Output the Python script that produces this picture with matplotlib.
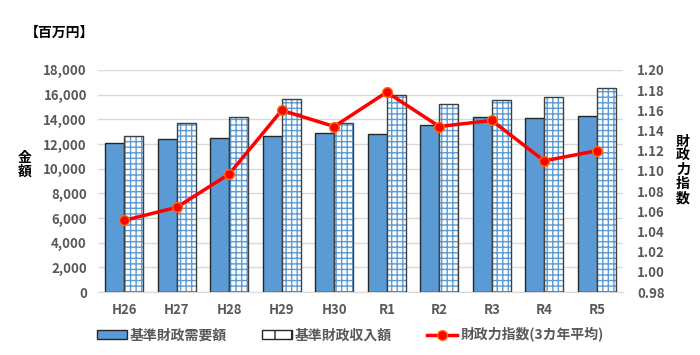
import matplotlib.pyplot as plt
import matplotlib.ticker as mticker
import numpy as np

plt.rcParams['font.family'] = ['Noto Sans CJK JP', 'DejaVu Sans']
plt.rcParams['hatch.linewidth'] = 1.0

years = ["H26", "H27", "H28", "H29", "H30", "R1", "R2", "R3", "R4", "R5"]
juyo = [12060, 12380, 12510, 12650, 12890, 12810, 13510, 14220, 14080, 14300]
shunyu = [12650, 13730, 14220, 15650, 13730, 15970, 15220, 15600, 15790, 16540]
shisu = [1.051, 1.064, 1.097, 1.160, 1.144, 1.178, 1.144, 1.150, 1.110, 1.120]

blue = '#5B9BD5'
gray = '#595959'

fig = plt.figure(figsize=(7, 3.55), dpi=100)
ax = fig.add_axes([0.14, 0.177, 0.75, 0.626])
x = np.arange(len(years))
w = 0.36

ax.bar(x - w / 2, juyo, w, color=blue, edgecolor='#262626', linewidth=1.0, zorder=3)
# barres hachurées : le quadrillage d'abord, puis le contour
ax.bar(x + w / 2, shunyu, w, color='white', edgecolor=blue, hatch='+++', linewidth=0, zorder=3)
ax.bar(x + w / 2, shunyu, w, fill=False, edgecolor='#404040', linewidth=1.0, zorder=4)

ax.set_xlim(-0.5, len(years) - 0.5)
ax.set_ylim(0, 18000)
ax.set_yticks(range(0, 18001, 2000))
ax.yaxis.set_major_formatter(mticker.StrMethodFormatter('{x:,.0f}'))
ax.set_xticks(x)
ax.set_xticklabels(years)
ax.grid(axis='y', color='#D9D9D9', linewidth=1.0, zorder=0)
for s in ['top', 'right', 'left']:
    ax.spines[s].set_visible(False)
ax.spines['bottom'].set_color('#D9D9D9')
ax.tick_params(length=0, colors=gray, labelsize=9.5, pad=8)
for t in ax.get_xticklabels() + ax.get_yticklabels():
    t.set_fontweight('bold')

ax2 = ax.twinx()
ax2.plot(x, shisu, color='#FF0000', linewidth=2.5, marker='o', markersize=7,
         markerfacecolor='#FF0000', markeredgecolor='#FF6A00', zorder=5)
ax2.set_ylim(0.98, 1.20)
ax2.set_yticks(np.arange(0.98, 1.2001, 0.02))
ax2.yaxis.set_major_formatter(mticker.FormatStrFormatter('%.2f'))
for s in ax2.spines.values():
    s.set_visible(False)
ax2.tick_params(length=0, colors=gray, labelsize=9.5, pad=10)
for t in ax2.get_yticklabels():
    t.set_fontweight('bold')

fig.text(60 / 700, 1 - 33 / 355, "【百万円】", fontsize=10, fontweight='bold', ha='center', va='center')
fig.text(25 / 700, 1 - 165 / 355, "金\n額", fontsize=10, fontweight='bold', ha='center', va='center', linespacing=1.0)
fig.text(683 / 700, 1 - 170 / 355, "財\n政\n力\n指\n数", fontsize=10, fontweight='bold', ha='center', va='center', linespacing=1.0)

h1 = plt.Rectangle((0, 0), 1, 1, facecolor=blue, edgecolor='#262626')
h2 = plt.Rectangle((0, 0), 1, 1, facecolor='white', edgecolor='#262626', hatch='|')
h3, = ax2.plot([], [], color='#FF0000', linewidth=2.5, marker='o', markersize=7,
               markeredgecolor='#FF6A00')
leg = fig.legend([h1, h2, h3], ["基準財政需要額", "基準財政収入額", "財政力指数(3カ年平均)"],
                 loc='center', bbox_to_anchor=(0.5, 1 - 335 / 355), ncol=3, frameon=False,
                 fontsize=10, handlelength=2.2, handleheight=0.6, columnspacing=2.5, handletextpad=0.2)
for t in leg.get_texts():
    t.set_color(gray)
    t.set_fontweight('bold')

fig.savefig('out.png', dpi=100)
